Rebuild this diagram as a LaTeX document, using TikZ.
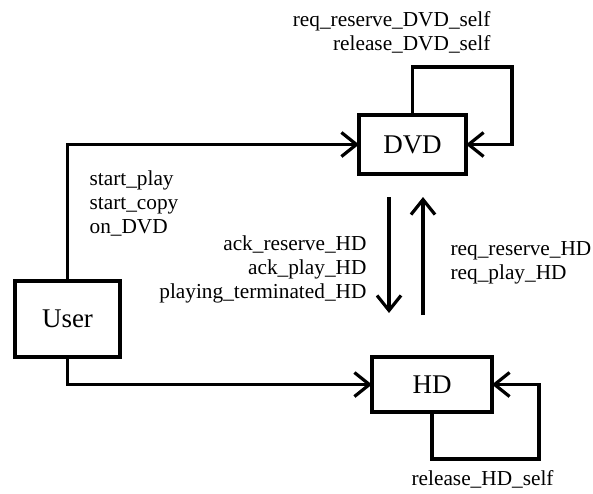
\documentclass[tikz,border=0pt]{standalone}
\usepackage{fontspec}
\setmainfont{Liberation Serif}
\usetikzlibrary{arrows.meta}
\begin{document}
\begin{tikzpicture}[x=1pt,y=-1pt,
  line width=3.2pt,
  block/.style={draw, rectangle, inner sep=0pt, outer sep=0pt,
    font=\fontsize{27}{32}\selectfont},
  flow/.style={-{Straight Barb[length=15pt,width=24pt]}, line join=miter},
  lbl/.style={inner sep=0pt, font=\fontsize{21.3}{24}\selectfont}]
  \useasboundingbox (0,0) rectangle (593,493);

  % components
  \node[block, minimum width=107pt, minimum height=59pt] (dvd) at (412.5,144.5) {DVD};
  \node[block, minimum width=105pt, minimum height=76pt] (user) at (67.5,319) {User};
  \node[block, minimum width=120pt, minimum height=55pt] (hd) at (432,384.5) {HD};

  % corner points of the self loops and ends of the vertical links
  \coordinate (dvdloop) at (512,67);
  \coordinate (hdloop) at (539,459);
  \coordinate (downtop) at (389,197);
  \coordinate (downend) at (389,313);
  \coordinate (upbot) at (423,315);
  \coordinate (uptop) at (423,197);

  % links
  \draw[flow] (user.north) |- (dvd.west);
  \draw[flow] (user.south) |- (hd.west);
  \draw[flow] (dvd.north) |- (dvdloop) |- (dvd.east);
  \draw[flow] (hd.south) |- (hdloop) |- (hd.east);
  \draw[flow] (downtop) -- (downend);
  \draw[flow] (upbot) -- (uptop);

  % messages (base anchor sits on the last line)
  \node[lbl, anchor=base east, align=right] (lself) at (492,50)
    {req\_reserve\_DVD\_self\\release\_DVD\_self};
  \node[lbl, anchor=base west, align=left] (luser) at (88,233)
    {start\_play\\start\_copy\\on\_DVD};
  \node[lbl, anchor=base east, align=right] (ldown) at (368,298)
    {ack\_reserve\_HD\\ack\_play\_HD\\playing\_terminated\_HD};
  \node[lbl, anchor=base west, align=left] (lup) at (449,279)
    {req\_reserve\_HD\\req\_play\_HD};
  \node[lbl, anchor=base west] (lhd) at (410,485) {release\_HD\_self};
\end{tikzpicture}
\end{document}
